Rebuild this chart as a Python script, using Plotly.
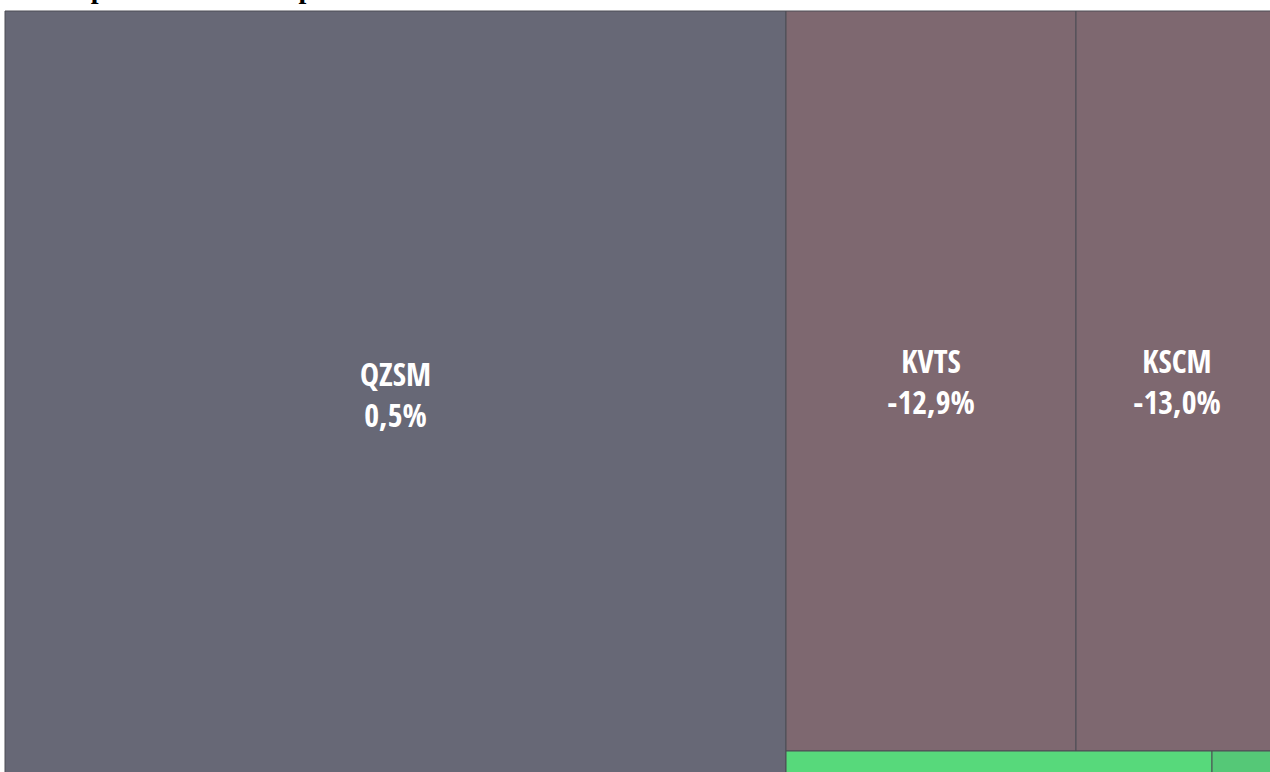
import plotly.graph_objects as go

# Data (weights estimated from tile areas, performance from labels)
tickers = ["QZSM", "KVTS", "KSCM", "PLMR", "TRNX"]
weights = [598246, 214600, 149480, 11076, 1716]
perf = [0.5, -12.9, -13.0, 4.1, 3.2]
colors = ["#676876", "#7e6870", "#7e6870", "#57d97b", "#55c877"]

title_text = "Desempenho mensal do portfólio"

labels_txt = [f"{t}<br>{p:.1f}%".replace(".", ",") for t, p in zip(tickers, perf)]

fig = go.Figure(
    go.Treemap(
        labels=tickers,
        parents=[""] * len(tickers),
        values=weights,
        text=labels_txt,
        texttemplate="%{text}",
        textposition="middle center",
        marker=dict(colors=colors, line=dict(color="#4d4d55", width=1),
                    pad=dict(t=0, l=0, r=0, b=0)),
        textfont=dict(family="Open Sans Condensed", size=32, color="white", weight="bold"),
        tiling=dict(packing="squarify", squarifyratio=2, pad=0),
        pathbar=dict(visible=False),
        sort=True,
    )
)

fig.update_layout(
    width=1283,
    height=782,
    margin=dict(l=5, r=5, t=11, b=5),
    paper_bgcolor="white",
    uniformtext=dict(minsize=12, mode="hide"),
    title=dict(
        text=f"<b>{title_text}</b>",
        font=dict(family="Liberation Serif, Times New Roman, serif", size=28, color="black"),
        x=0.009,
        xanchor="left",
        y=1.0,
        yanchor="bottom",
        yref="container",
        pad=dict(b=2),
    ),
)

fig.write_html(
    "out.html",
    config={"displayModeBar": False},
    post_script="document.body.style.margin='0';document.documentElement.style.overflow='hidden';",
)
